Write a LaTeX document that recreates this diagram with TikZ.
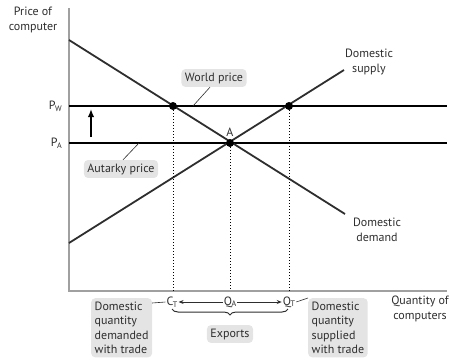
\documentclass[tikz,border=0pt]{standalone}
\usepackage{fontspec}
\setmainfont{PT Sans}
\usetikzlibrary{decorations.pathreplacing,arrows.meta}

\definecolor{ink}{HTML}{2E2E2E}
\definecolor{boxgray}{HTML}{E4E4E4}
\definecolor{axisgray}{HTML}{A0A0A0}

% letter with a lowered small index, as in P_W
\newcommand{\lowidx}[2]{#1\kern-0.5pt{\footnotesize\raisebox{-0.45ex}{#2}}}

\begin{document}
\begin{tikzpicture}[x=1pt, y=-1pt]
		\tikzstyle{every node}=[inner sep=1pt, align=center, text=ink, font=\fontsize{12}{14.5}\selectfont]
		\tikzstyle{curve}=[ink, line width=1.8pt]
		\tikzstyle{price}=[black, line width=1.5pt]
		\tikzstyle{tag}=[fill=boxgray, rounded corners=4pt, inner sep=3.5pt]
		\tikzstyle{leader}=[ink, line width=0.6pt]
		\tikzstyle{dot}=[circle, fill=black, inner sep=0pt, minimum size=8pt]
		\useasboundingbox (0,0) rectangle (450,362);

		% axes
		\draw [axisgray, line width=1.4pt] (69,8) -- (69,291) -- (447,291);
		\node (py) at (33,20) {Price of\\computer};
		\node (qx) at (420,309) {Quantity of\\computers};

		% world and autarky price lines
		\node [anchor=east] (PW) at (63,106) {\lowidx{P}{W}};
		\node [anchor=east] (PA) at (63,143) {\lowidx{P}{A}};
		\coordinate (w0) at (69,106); \coordinate (w1) at (447,106);
		\coordinate (a0) at (69,143); \coordinate (a1) at (447,143);
		\draw [price] (w0) -- (w1);
		\draw [price] (a0) -- (a1);
		\coordinate (up0) at (91,137); \coordinate (up1) at (91,109);
		\draw [-{Latex[length=8pt,width=6.5pt]}, line width=2pt] (up0) -- (up1);

		% demand and supply
		\coordinate (d0) at (69,40); \coordinate (d1) at (345,214);
		\coordinate (s0) at (69,243); \coordinate (s1) at (344,70);
		\draw [curve] (d0) -- (d1);
		\draw [curve] (s0) -- (s1);
		\node (dsup) at (369,62) {Domestic\\supply};
		\node (ddem) at (377,230) {Domestic\\demand};

		% equilibrium points
		\node [dot] (cw) at (173,106) {};
		\node [dot] (A) at (230,143) {};
		\node [dot] (qw) at (289,106) {};
		\node [above=1pt] (Alab) at (A.north) {A};

		% quantities on the axis
		\node (CT) at (172,302) {\lowidx{C}{T}};
		\node (QA) at (230,302) {\lowidx{Q}{A}};
		\node (QT) at (289,302) {\lowidx{Q}{T}};
		\coordinate (ct0) at (173,291); \coordinate (qa0) at (230,291); \coordinate (qt0) at (289,291);
		\draw [dotted, line width=1pt] (cw) -- (ct0);
		\draw [dotted, line width=1pt] (A) -- (qa0);
		\draw [dotted, line width=1pt] (qw) -- (qt0);
		\draw [-{Stealth[length=5pt,width=4pt]}, ink, line width=0.8pt] (QA) -- (CT);
		\draw [-{Stealth[length=5pt,width=4pt]}, ink, line width=0.8pt] (QA) -- (QT);
		\coordinate (b0) at (172,309); \coordinate (b1) at (288,309);
		\draw [decorate, decoration={brace, mirror, amplitude=6pt}, ink, line width=1pt] (b0) -- (b1);

		% call-out boxes
		\node [tag] (world) at (214,78) {World price};
		\node [tag] (aut) at (121,169) {Autarky price};
		\node [tag] (exp) at (230,334) {Exports};
		\node [tag, align=left, anchor=north west] (qdem) at (91,298) {Domestic\\quantity\\demanded\\with trade};
		\node [tag, align=left, anchor=north west] (qsup) at (308,298) {Domestic\\quantity\\supplied\\with trade};
		\coordinate (wp) at (193,106); \coordinate (ap) at (139,143);
		\draw [leader] (world.south) ++(-4,0) -- (wp);
		\draw [leader] (aut.north) ++(2,0) -- (ap);
		\draw [leader] (qdem.north east) ++(0,5) -- (CT.west);
		\draw [leader] (QT.east) -- (qsup.north west);
\end{tikzpicture}
\end{document}
